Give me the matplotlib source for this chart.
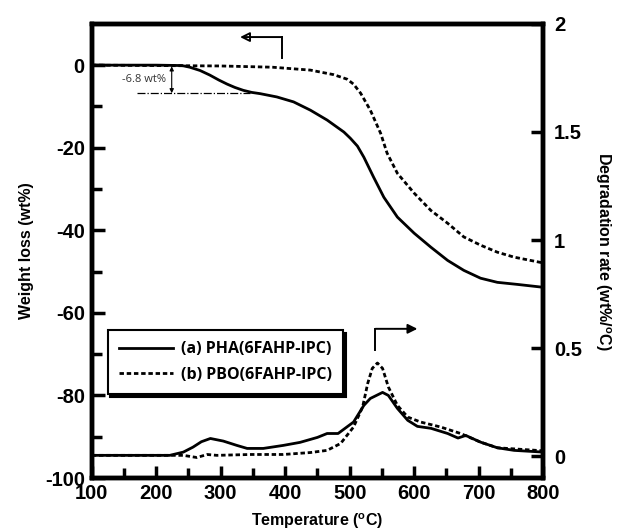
import numpy as np
import matplotlib
matplotlib.use("Agg")
import matplotlib.pyplot as plt

plt.rcParams["font.family"] = ["Liberation Sans", "DejaVu Sans"]
plt.rcParams["axes.unicode_minus"] = False
plt.rcParams["mathtext.fontset"] = "custom"
plt.rcParams["mathtext.rm"] = "Liberation Sans:bold"
plt.rcParams["mathtext.bf"] = "Liberation Sans:bold"

# TGA (weight loss, left axis)
tga_a_T = [100, 200, 240, 252, 268, 283, 297, 310, 322, 335, 348, 361, 387, 413, 439, 465,
           491, 501, 512, 522, 537, 553, 574, 600, 626, 652, 677, 703, 729, 760, 800]
tga_a_w = [0, 0, -0.1, -0.5, -1.3, -2.4, -3.6, -4.6, -5.4, -6.1, -6.6, -6.9, -7.7, -8.9,
           -10.9, -13.3, -16.2, -17.7, -19.6, -22.3, -27.1, -32.0, -36.8, -40.7, -44.1,
           -47.3, -49.7, -51.6, -52.6, -53.1, -53.8]
tga_b_T = [100, 300, 380, 439, 475, 496, 506, 517, 532, 548, 558, 574, 600, 626, 652,
           677, 703, 729, 755, 800]
tga_b_w = [0, -0.2, -0.5, -1.2, -2.3, -3.4, -4.6, -6.8, -10.9, -16.5, -21.3, -26.2, -31.0,
           -35.2, -38.3, -41.6, -43.6, -45.3, -46.5, -47.9]

# DTG (degradation rate, right axis)
dtg_a_T = [100, 221, 242, 257, 270, 284, 304, 325, 341, 366, 397, 423, 450, 465, 482, 506,
           522, 532, 551, 560, 574, 590, 605, 626, 652, 668, 680, 703, 729, 755, 800]
dtg_a_r = [0.005, 0.005, 0.02, 0.043, 0.068, 0.083, 0.071, 0.051, 0.037, 0.037, 0.051,
           0.065, 0.088, 0.106, 0.106, 0.159, 0.236, 0.268, 0.296, 0.282, 0.222, 0.167,
           0.139, 0.13, 0.106, 0.085, 0.097, 0.066, 0.04, 0.028, 0.02]
dtg_b_T = [100, 242, 263, 279, 294, 346, 397, 439, 465, 486, 506, 520, 528, 535, 543, 551,
           560, 574, 590, 610, 641, 672, 703, 729, 800]
dtg_b_r = [0.005, 0.005, -0.005, 0.009, 0.005, 0.009, 0.009, 0.018, 0.028, 0.06, 0.136,
           0.228, 0.338, 0.407, 0.432, 0.407, 0.321, 0.236, 0.182, 0.159, 0.136, 0.106,
           0.066, 0.04, 0.026]

labels = ["(a) PHA(6FAHP-IPC)", "(b) PBO(6FAHP-IPC)"]

fig = plt.figure(figsize=(6.2, 5.3), dpi=100)
ax = fig.add_axes([0.148, 0.098, 0.728, 0.857])
ax2 = ax.twinx()

dot = (0, (1.6, 1.0))
l1, = ax.plot(tga_a_T, tga_a_w, color="black", lw=2.0)
l2, = ax.plot(tga_b_T, tga_b_w, color="black", lw=2.0, ls=dot)
ax2.plot(dtg_a_T, dtg_a_r, color="black", lw=2.0)
ax2.plot(dtg_b_T, dtg_b_r, color="black", lw=2.0, ls=dot)

ax.set_xlim(100, 800)
ax.set_ylim(-100, 10)
ax2.set_ylim(-0.1, 2)

ax.set_xticks(np.arange(100, 801, 100))
ax.set_xticks(np.arange(150, 800, 100), minor=True)
ax.set_yticks(np.arange(-100, 1, 20))
ax.set_yticks(np.arange(-90, 0, 20), minor=True)
ax2.set_yticks([0, 0.5, 1, 1.5, 2])
ax2.set_yticklabels(["0", "0.5", "1", "1.5", "2"])

for a in (ax, ax2):
    for s in a.spines.values():
        s.set_linewidth(3.2)
    a.tick_params(which="both", direction="in", width=2.5, labelsize=14.5, pad=5)
    a.tick_params(which="major", length=9)
    a.tick_params(which="minor", length=7)
    for t in a.get_xticklabels() + a.get_yticklabels():
        t.set_fontweight("bold")
ax.tick_params(axis="x", pad=4)
ax2.tick_params(axis="y", pad=8)

ax.set_xlabel(r"Temperature ($^{\mathrm{o}}$C)", fontsize=11.5, fontweight="bold", labelpad=6)
ax.set_ylabel("Weight loss (wt%)", fontsize=11.5, fontweight="bold", labelpad=8)
ax2.set_ylabel(r"Degradation rate (wt%/$^{\mathrm{o}}$C)", fontsize=11.5,
               fontweight="bold", rotation=270, labelpad=22)

# -6.8 wt% annotation
ax.plot([170, 345], [-6.8, -6.8], color="black", lw=0.9, ls="-.")
ax.annotate("", xy=(224, -6.8), xytext=(224, -0.3),
            arrowprops=dict(arrowstyle="<|-|>", color="black", lw=0.8,
                            mutation_scale=6, shrinkA=0, shrinkB=0))
ax.text(215, -3.4, "-6.8 wt%", fontsize=8, family="Open Sans", ha="right", va="center",
        color="#333333")

# axis pointer arrows
ax.plot([395, 395], [1.7, 6.8], color="black", lw=1.4)
ax.annotate("", xy=(330, 6.8), xytext=(395, 6.8),
            arrowprops=dict(arrowstyle="-|>", color="black", lw=1.4,
                            mutation_scale=14, shrinkA=0, shrinkB=0, fill=False))
ax2.plot([540, 540], [0.49, 0.59], color="black", lw=1.4)
ax2.annotate("", xy=(605, 0.59), xytext=(540, 0.59),
             arrowprops=dict(arrowstyle="-|>", color="black", lw=1.4,
                             mutation_scale=14, shrinkA=0, shrinkB=0))

leg = ax.legend([l1, l2], labels, loc="upper left", bbox_to_anchor=(0.035, 0.326),
                borderaxespad=0, fancybox=False, edgecolor="black", framealpha=1,
                shadow={"color": "black", "alpha": 1}, handlelength=3.4,
                prop={"family": "Open Sans", "size": 11.5, "weight": "bold"},
                borderpad=0.7, labelspacing=0.6, handletextpad=0.5)
leg.get_frame().set_linewidth(1.5)

fig.savefig("out.png", dpi=100)
